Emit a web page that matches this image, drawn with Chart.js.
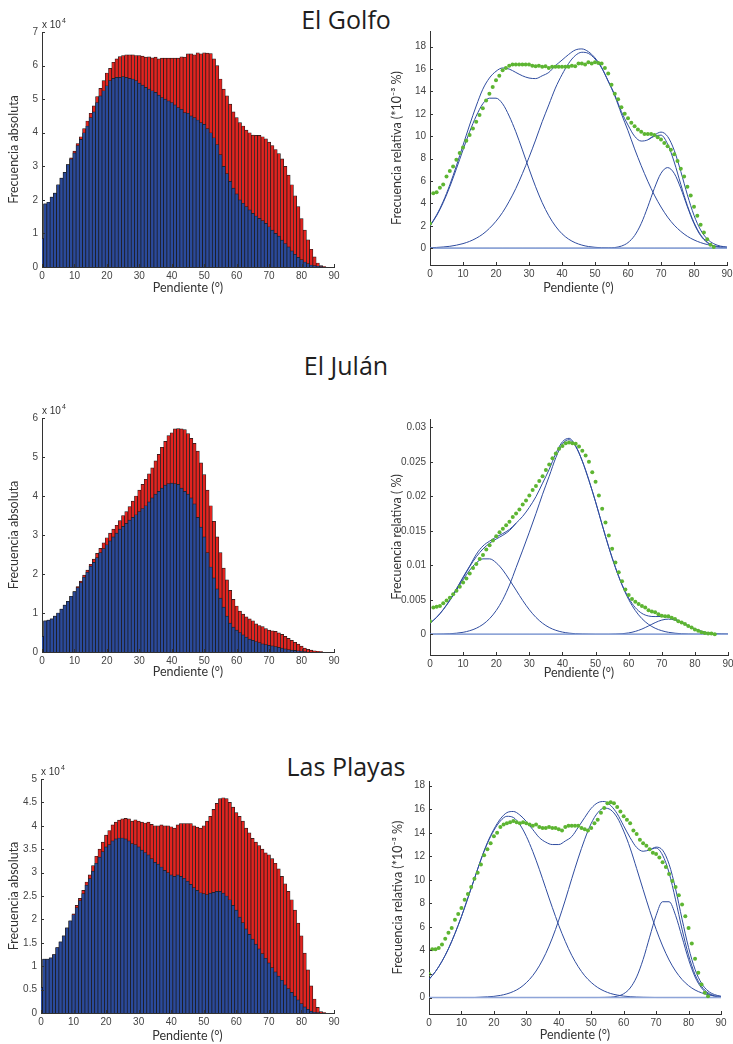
<!DOCTYPE html>
<html lang="es">
<head>
<meta charset="utf-8">
<title>Pendientes</title>
<script src="https://cdn.jsdelivr.net/npm/chart.js@4.4.1/dist/chart.umd.min.js"></script>
<style>
  html, body { margin: 0; padding: 0; background: #fff; }
  body { width: 733px; height: 1044px; position: relative; overflow: hidden; }
  canvas { position: absolute; }
  .titulo { position: absolute; left: 0; width: 692px; text-align: center;
            font-family: 'Open Sans', sans-serif; font-size: 25px; line-height: 25px; color: #1e1e1e; }
</style>
</head>
<body>
<div class="titulo" style="top:7px">El Golfo</div>
<div class="titulo" style="top:353px">El Julán</div>
<div class="titulo" style="top:754px">Las Playas</div>
<script>
// pendiente (grados) de cada barra / punto
const grados = [0,1,2,3,4,5,6,7,8,9,10,11,12,13,14,15,16,17,18,19,20,21,22,23,24,25,26,27,28,29,
  30,31,32,33,34,35,36,37,38,39,40,41,42,43,44,45,46,47,48,49,50,51,52,53,54,55,56,57,58,59,
  60,61,62,63,64,65,66,67,68,69,70,71,72,73,74,75,76,77,78,79,80,81,82,83,84,85,86,87,88,89];
const xAjuste = [0,2,4,6,8,10,12,14,16,18,20,22,24,26,28,30,32,34,36,38,40,42,44,
  46,48,50,52,54,56,58,60,62,64,66,68,70,72,74,76,78,80,82,84,86,88,90];
const ticksX = [0,10,20,30,40,50,60,70,80,90];

// ---- El Golfo ----
const golfoTotal = [0.85,1.88,1.93,2.08,2.2,2.45,2.65,2.82,3.05,3.25,
  3.45,3.68,3.88,4.12,4.35,4.58,4.8,5.08,5.32,5.55,
  5.78,5.92,6.1,6.2,6.27,6.3,6.32,6.32,6.32,6.3,
  6.3,6.28,6.25,6.26,6.23,6.25,6.2,6.22,6.22,6.22,
  6.22,6.22,6.22,6.26,6.25,6.35,6.35,6.32,6.38,6.35,
  6.38,6.37,6.36,6.2,6.0,5.6,5.3,5.1,4.85,4.62,
  4.45,4.3,4.2,4.08,4.0,3.93,3.92,3.92,3.88,3.82,
  3.72,3.62,3.5,3.38,3.22,3.0,2.74,2.45,2.12,1.8,
  1.44,1.1,0.81,0.53,0.3,0.12,0.04,0.01,0,0];
const golfoAzul = [0.85,1.88,1.93,2.08,2.2,2.45,2.65,2.82,3.05,3.22,
  3.4,3.62,3.8,4.0,4.2,4.45,4.62,4.9,5.1,5.25,
  5.4,5.55,5.62,5.65,5.65,5.67,5.65,5.62,5.6,5.55,
  5.48,5.42,5.35,5.3,5.25,5.2,5.12,5.05,5.0,4.95,
  4.9,4.83,4.75,4.7,4.6,4.58,4.5,4.45,4.38,4.3,
  4.25,4.12,4.0,3.85,3.65,3.35,3.0,2.78,2.55,2.35,
  2.18,2.0,1.9,1.8,1.7,1.6,1.52,1.45,1.38,1.3,
  1.2,1.1,1.0,0.92,0.8,0.7,0.6,0.48,0.38,0.29,
  0.22,0.15,0.1,0.06,0.04,0.02,0.01,0,0,0];
const golfoVerde = [2.2,4.9,5.0,5.4,5.7,6.4,6.9,7.3,7.9,8.5,
  9.0,9.6,10.1,10.7,11.3,11.9,12.5,13.2,13.8,14.4,
  15.0,15.4,15.9,16.1,16.3,16.4,16.4,16.4,16.4,16.4,
  16.4,16.3,16.25,16.3,16.2,16.25,16.1,16.2,16.2,16.2,
  16.2,16.2,16.2,16.3,16.25,16.5,16.5,16.4,16.6,16.5,
  16.6,16.55,16.5,16.1,15.6,14.6,13.8,13.3,12.6,12.0,
  11.6,11.2,10.9,10.6,10.4,10.2,10.2,10.2,10.1,9.9,
  9.7,9.4,9.1,8.8,8.4,7.8,7.1,6.4,5.5,4.7,
  3.7,2.9,2.1,1.4,0.8,0.3,0.1];
const golfoC1 = [1.98,2.9,4.07,5.49,7.09,8.78,10.4,11.8,12.9,13.4,
  13.4,12.9,11.8,10.4,8.78,7.09,5.49,4.07,2.9,1.98,
  1.29,0.81,0.49,0.28,0.15,0.08,0.04,0.02,0.01,0,
  0,0,0,0,0,0,0,0,0,0,
  0,0,0,0,0,0];
const golfoC2 = [0.04,0.07,0.11,0.17,0.27,0.41,0.61,0.89,1.26,1.77,
  2.41,3.2,4.19,5.33,6.66,8.11,9.66,11.3,12.8,14.3,
  15.5,16.5,17.2,17.5,17.4,16.9,16.1,14.9,13.6,12.0,
  10.5,8.87,7.37,5.98,4.74,3.68,2.78,2.06,1.5,1.06,
  0.74,0.5,0.33,0.21,0.13,0.08];
const golfoC3 = [0,0,0,0,0,0,0,0,0,0,
  0,0,0,0,0,0,0,0,0,0,
  0,0,0,0,0,0,0.01,0.02,0.06,0.19,
  0.5,1.13,2.2,3.7,5.35,6.69,7.2,6.69,5.35,3.7,
  2.2,1.13,0.5,0.19,0.06,0.02];
const golfoSuma = [2.02,2.97,4.18,5.66,7.36,9.19,11.0,12.7,14.2,15.2,
  15.8,16.1,16.0,15.7,15.4,15.2,15.15,15.4,15.7,16.3,
  16.8,17.3,17.7,17.8,17.55,17.0,16.15,14.94,13.7,12.2,
  11.0,10.0,9.57,9.68,10.1,10.37,9.98,8.75,6.85,4.76,
  2.94,1.63,0.83,0.4,0.19,0.1];
const golfoSuma2 = [null,null,null,null,null,null,null,null,null,null,
  null,null,null,null,null,null,null,null,null,null,
  null,null,null,null,null,null,null,null,null,null,
  null,null,null,9.68,10.0,10.1,9.3,7.7,5.7,3.8,
  2.3,1.2,0.55,0.15,null,null];
const golfoTicksY = [0,1,2,3,4,5,6,7];
const golfoTicksRel = [0,2,4,6,8,10,12,14,16,18];

// ---- El Julán ----
const julanTotal = [0.4,0.8,0.82,0.85,0.92,1.0,1.1,1.2,1.3,1.43,
  1.55,1.68,1.82,1.97,2.1,2.25,2.38,2.53,2.66,2.8,
  2.93,3.05,3.15,3.25,3.37,3.5,3.6,3.73,3.87,4.0,
  4.15,4.3,4.43,4.57,4.72,4.9,5.07,5.25,5.4,5.55,
  5.62,5.72,5.73,5.72,5.7,5.6,5.48,5.35,5.15,4.85,
  4.55,4.15,3.75,3.35,2.95,2.55,2.15,1.85,1.58,1.35,
  1.18,1.05,0.97,0.9,0.85,0.8,0.72,0.68,0.65,0.6,
  0.56,0.54,0.53,0.49,0.45,0.4,0.35,0.3,0.25,0.2,
  0.15,0.1,0.07,0.05,0.03,0.02,0.01,0,0,0];
const julanAzul = [0.4,0.8,0.82,0.85,0.92,1.0,1.1,1.2,1.3,1.43,
  1.55,1.65,1.78,1.92,2.05,2.2,2.3,2.42,2.55,2.65,
  2.75,2.85,2.95,3.05,3.15,3.22,3.3,3.38,3.45,3.52,
  3.6,3.68,3.75,3.85,3.95,4.05,4.12,4.2,4.28,4.32,
  4.33,4.32,4.3,4.2,4.12,4.05,3.95,3.8,3.45,3.2,
  2.95,2.55,2.18,1.9,1.62,1.38,1.15,0.92,0.74,0.64,
  0.56,0.5,0.44,0.38,0.33,0.3,0.27,0.24,0.21,0.19,
  0.17,0.16,0.14,0.12,0.1,0.08,0.06,0.05,0.04,0.03,
  0.02,0.01,0,0,0,0,0,0,0,0];
const julanVerde = [0.0019,0.0039,0.0040,0.0041,0.0045,0.0049,0.0053,0.0058,0.0063,0.0069,
  0.0075,0.0081,0.0088,0.0096,0.0102,0.0109,0.0115,0.0123,0.0129,0.0136,
  0.0142,0.0148,0.0153,0.0158,0.0163,0.0170,0.0175,0.0181,0.0188,0.0194,
  0.0201,0.0209,0.0215,0.0222,0.0229,0.0238,0.0246,0.0255,0.0262,0.0269,
  0.0273,0.0277,0.0278,0.0277,0.0276,0.0272,0.0266,0.0259,0.0250,0.0235,
  0.0221,0.0201,0.0182,0.0162,0.0143,0.0124,0.0104,0.0090,0.0077,0.0065,
  0.0057,0.0051,0.0047,0.0044,0.0041,0.0039,0.0035,0.0033,0.0032,0.0029,
  0.0027,0.0026,0.0026,0.0024,0.0022,0.0019,0.0017,0.0015,0.0012,0.0010,
  0.0007,0.0005,0.0003,0.0002,0.0001,0.0001,0];
const julanC1 = [0.0016,0.00245,0.00356,0.0049,0.0064,0.0079,0.0093,0.01036,0.01093,0.01093,
  0.01036,0.0093,0.0079,0.0064,0.0049,0.00356,0.00245,0.0016,0.00099,0.00058,
  0.00032,0.00017,0.00008,0.00004,0.00002,0,0,0,0,0,
  0,0,0,0,0,0,0,0,0,0,
  0,0,0,0,0,0];
const julanC2 = [0.00001,0.00002,0.00004,0.00008,0.00016,0.00029,0.00052,0.00088,0.00144,0.00227,
  0.00345,0.00505,0.00713,0.00966,0.0122,0.0148,0.0175,0.0203,0.0229,0.0256,
  0.0276,0.0282,0.0272,0.0251,0.0223,0.0192,0.01585,0.0126,0.00966,0.00713,
  0.00505,0.00345,0.00227,0.00144,0.00088,0.00052,0.00029,0.00016,0.00008,0.00004,
  0.00002,0.00001,0,0,0,0];
const julanC3 = [0,0,0,0,0,0,0,0,0,0,
  0,0,0,0,0,0,0,0,0,0,
  0,0,0,0,0,0,0,0,0.00003,0.00008,
  0.0002,0.00042,0.00076,0.00121,0.00169,0.00206,0.0022,0.00206,0.00169,0.00121,
  0.00076,0.00042,0.0002,0.00008,0.00003,0.00001];
const julanSuma = [0.00161,0.00247,0.0036,0.005,0.0066,0.0083,0.0099,0.0116,0.0128,0.0135,
  0.0141,0.0146,0.0152,0.0161,0.0171,0.0184,0.01995,0.0219,0.0239,0.0262,
  0.0279,0.0284,0.0273,0.0251,0.02232,0.0192,0.01585,0.0126,0.00969,0.00721,
  0.00525,0.00387,0.00303,0.00265,0.00257,0.00258,0.00249,0.00222,0.00177,0.00125,
  0.00078,0.00043,0.00021,0.00009,0.00004,0.00002];
const julanSuma2 = [null,null,null,0.00498,0.00656,0.00819,0.00982,0.01124,0.01237,0.0132,
  0.01381,0.01435,0.01503,0.0161,null,null,null,null,null,null,
  null,null,null,null,null,null,null,null,null,null,
  null,null,null,null,null,null,null,null,null,null,
  null,null,null,null,null,null];
const julanTicksY = [0,1,2,3,4,5,6];
const julanTicksRel = [0,0.005,0.01,0.015,0.02,0.025,0.03];

// ---- Las Playas ----
const playasTotal = [0.55,1.15,1.15,1.18,1.25,1.4,1.52,1.65,1.82,1.97,
  2.12,2.3,2.45,2.62,2.8,2.95,3.15,3.35,3.5,3.65,
  3.8,3.9,4.02,4.08,4.12,4.15,4.16,4.15,4.1,4.13,
  4.1,4.08,4.06,4.08,4.03,4.0,4.0,4.02,4.0,4.0,
  3.98,3.95,4.02,4.05,4.05,4.05,4.05,4.0,3.97,3.95,
  4.0,4.1,4.2,4.35,4.48,4.58,4.6,4.58,4.5,4.4,
  4.28,4.2,4.1,3.95,3.85,3.73,3.65,3.58,3.5,3.42,
  3.38,3.3,3.2,3.08,2.92,2.76,2.6,2.42,2.2,1.92,
  1.65,1.28,0.92,0.58,0.3,0.12,0.03,0.01,0,0];
const playasAzul = [0.55,1.15,1.15,1.18,1.25,1.4,1.52,1.65,1.82,1.97,
  2.1,2.25,2.4,2.55,2.73,2.87,3.03,3.2,3.33,3.45,
  3.55,3.6,3.68,3.72,3.74,3.74,3.72,3.68,3.62,3.6,
  3.55,3.48,3.43,3.38,3.3,3.22,3.18,3.12,3.05,3.0,
  2.95,2.92,2.95,2.92,2.88,2.82,2.75,2.68,2.62,2.57,
  2.55,2.53,2.56,2.58,2.6,2.6,2.56,2.5,2.42,2.3,
  2.2,2.05,1.93,1.8,1.68,1.58,1.47,1.37,1.27,1.17,
  1.07,0.97,0.88,0.79,0.7,0.6,0.52,0.44,0.36,0.28,
  0.2,0.13,0.08,0.04,0.02,0.01,0,0,0,0];
const playasVerde = [2.0,4.1,4.1,4.2,4.5,5.0,5.5,5.9,6.6,7.1,
  7.6,8.3,8.8,9.4,10.1,10.6,11.3,12.1,12.6,13.1,
  13.7,14.0,14.5,14.7,14.8,14.9,15.0,14.9,14.8,14.9,
  14.8,14.7,14.6,14.7,14.5,14.4,14.4,14.5,14.4,14.4,
  14.3,14.2,14.5,14.6,14.6,14.6,14.6,14.4,14.3,14.2,
  14.4,14.8,15.1,15.7,16.1,16.5,16.6,16.5,16.2,15.8,
  15.4,15.1,14.8,14.2,13.9,13.4,13.1,12.9,12.6,12.3,
  12.2,11.9,11.5,11.1,10.5,9.9,9.4,8.7,7.9,6.9,
  5.9,4.6,3.3,2.1,1.1,0.4,0.1];
const playasC1 = [1.54,2.21,3.08,4.15,5.44,6.88,8.47,10.1,11.7,13.1,
  14.2,15.0,15.4,15.3,14.7,13.7,12.4,10.9,9.27,7.66,
  6.13,4.77,3.58,2.62,1.85,1.28,0.85,0.55,0.34,0.21,
  0.12,0.07,0.04,0.02,0.01,0,0,0,0,0,
  0,0,0,0,0,0];
const playasC2 = [0,0,0,0,0,0,0,0,0.03,0.06,
  0.1,0.18,0.31,0.51,0.81,1.26,1.87,2.69,3.75,5.05,
  6.58,8.28,10.1,11.85,13.45,14.8,15.7,16.1,15.95,15.3,
  14.15,12.7,10.96,9.17,7.41,5.8,4.38,3.19,2.25,1.53,
  1.01,0.64,0.4,0.24,0.14,0.08];
const playasC3 = [0,0,0,0,0,0,0,0,0,0,
  0,0,0,0,0,0,0,0,0,0,
  0,0,0,0,0,0,0,0.01,0.03,0.11,
  0.32,0.81,1.75,3.24,5.13,6.98,8.14,8.14,6.98,5.13,
  3.24,1.75,0.81,0.32,0.11,0.03];
const playasSuma = [1.54,2.21,3.08,4.15,5.44,6.88,8.47,10.1,11.73,13.16,
  14.3,15.18,15.71,15.81,15.51,14.96,14.27,13.59,13.2,13.0,
  13.0,13.3,13.68,14.47,15.3,16.08,16.55,16.66,16.32,15.62,
  14.59,13.58,12.75,12.43,12.55,12.78,12.52,11.33,9.23,6.66,
  4.25,2.39,1.21,0.56,0.25,0.11];
const playasSuma2 = [null,null,null,null,null,null,null,null,null,null,
  null,null,null,null,null,null,null,null,null,null,
  null,null,null,null,null,null,null,null,null,null,
  null,null,null,null,12.55,12.7,12.1,10.6,8.3,5.8,
  3.6,1.95,0.95,0.4,0.15,null];
const playasTicksY = [0,0.5,1,1.5,2,2.5,3,3.5,4,4.5,5];
const playasTicksRel = [0,2,4,6,8,10,12,14,16,18];

const AZUL = '#2a4a9b', ROJO = '#e3231f', LINEA = '#2f4c9f', VERDE = '#5db532', BASE = '#8ea5d8';

// marcas hacia dentro y etiqueta "x 10^4"
const marcas = {
  id: 'marcas',
  afterDraw(chart, args, opts) {
    const { ctx, chartArea: a, scales: { x, y } } = chart;
    ctx.save();
    ctx.strokeStyle = '#333';
    ctx.lineWidth = 1;
    ctx.beginPath();
    x.ticks.forEach(t => {
      const px = Math.round(x.getPixelForValue(t.value)) + 0.5;
      ctx.moveTo(px, a.bottom); ctx.lineTo(px, a.bottom - 3);
    });
    y.ticks.forEach(t => {
      const py = Math.round(y.getPixelForValue(t.value)) + 0.5;
      ctx.moveTo(a.left, py); ctx.lineTo(a.left + 3, py);
    });
    ctx.stroke();
    if (opts.exp) {
      ctx.fillStyle = '#333';
      ctx.font = '10px "Liberation Sans", Arial, sans-serif';
      ctx.fillText('x 10', a.left, a.top - 4);
      const w = ctx.measureText('x 10').width;
      ctx.font = '7px "Liberation Sans", Arial, sans-serif';
      ctx.fillText('4', a.left + w + 1, a.top - 9);
    }
    ctx.restore();
  }
};
Chart.register(marcas);

function puntos(xs, ys) {
  return ys.map((y, i) => ({ x: xs[i], y: y }));
}

function dibujar(T, tipo, datasets, ticksY, yMin, yMax, tituloY, exp) {
  const left = Math.round(T.tx - 7.5);
  const top = Math.round(T.t) - 18;
  const r = Math.round(T.r);
  const pr = Math.min(10, 733 - r);
  const W = r + pr - left;
  const H = Math.round(T.ty + 7.5) - top;
  const yW = Math.round(T.l) - left;
  const xH = top + H - Math.round(T.b);

  const cv = document.createElement('canvas');
  cv.width = W; cv.height = H;
  cv.style.left = left + 'px'; cv.style.top = top + 'px';
  document.body.appendChild(cv);

  const fTick = { family: '"Liberation Sans", Arial, sans-serif', size: 10 };
  const fTit = { family: 'Lato, sans-serif', size: 12.5 };

  new Chart(cv, {
    type: tipo,
    data: { datasets: datasets },
    options: {
      responsive: false,
      animation: false,
      events: [],
      layout: { padding: { top: 18, right: pr, bottom: 0, left: 0 } },
      plugins: { legend: { display: false }, tooltip: { enabled: false }, marcas: { exp: exp } },
      scales: {
        x: {
          type: 'linear', min: 0, max: 90, offset: false,
          grid: { display: false, drawTicks: false },
          border: { display: true, color: '#333' },
          ticks: { font: fTick, color: '#444', padding: 3, maxRotation: 0, autoSkip: false },
          title: { display: true, text: 'Pendiente (°)', font: fTit, color: '#333', padding: 0 },
          afterBuildTicks: s => { s.ticks = ticksX.map(v => ({ value: v })); },
          afterFit: s => { s.height = xH; s.paddingLeft = 0; s.paddingRight = 0; }
        },
        y: {
          type: 'linear', min: yMin, max: yMax,
          grid: { display: false, drawTicks: false },
          border: { display: true, color: '#333' },
          ticks: { font: fTick, color: '#444', padding: 4, autoSkip: false, callback: v => String(v) },
          title: { display: true, text: tituloY, font: fTit, color: '#333', padding: 0 },
          afterBuildTicks: s => { s.ticks = ticksY.map(v => ({ value: v })); },
          afterFit: s => { s.width = yW; s.paddingTop = 0; s.paddingBottom = 0; }
        }
      }
    }
  });
}

function histo(total, azul) {
  const comun = { borderColor: '#1b1b1b', borderWidth: 0.7, barPercentage: 1, categoryPercentage: 1,
                  grouped: false, clip: 0 };
  return [
    Object.assign({ data: puntos(grados, azul), backgroundColor: AZUL, order: 0 }, comun),
    Object.assign({ data: puntos(grados, total), backgroundColor: ROJO, order: 1 }, comun)
  ];
}

function ajuste(verde, curvas) {
  const ds = [{ data: puntos(grados, verde), showLine: false, pointRadius: 2,
                pointBackgroundColor: VERDE, pointBorderWidth: 0, order: -2 }];
  curvas.forEach(c => ds.push({ data: puntos(xAjuste, c), showLine: true, pointRadius: 0,
    borderColor: LINEA, borderWidth: 1, tension: 0.4, cubicInterpolationMode: 'monotone', spanGaps: false, order: 0 }));
  ds.push({ data: [{ x: xAjuste[0], y: 0 }, { x: xAjuste[xAjuste.length - 1], y: 0 }], showLine: true,
            pointRadius: 0, borderColor: BASE, borderWidth: 1.5, order: -1 });
  return ds;
}

// fila 1
dibujar({ l: 41.7, t: 32.3, r: 334.3, b: 266.7, tx: 13.5, ty: 287 }, 'bar',
  histo(golfoTotal, golfoAzul), golfoTicksY, 0, 7, 'Frecuencia absoluta', true);
dibujar({ l: 429.7, t: 30.7, r: 726.7, b: 265, tx: 396, ty: 287 }, 'scatter',
  ajuste(golfoVerde, [golfoC1, golfoC2, golfoC3, golfoSuma, golfoSuma2]),
  golfoTicksRel, -1.5, 19.4, 'Frecuencia relativa (*10⁻³ %)', false);
// fila 2
dibujar({ l: 41.7, t: 417.7, r: 334.3, b: 651.7, tx: 13.5, ty: 671.7 }, 'bar',
  histo(julanTotal, julanAzul), julanTicksY, 0, 6, 'Frecuencia absoluta', true);
dibujar({ l: 429.7, t: 419, r: 727.7, b: 655, tx: 396, ty: 672 }, 'scatter',
  ajuste(julanVerde, [julanC1, julanC2, julanC3, julanSuma, julanSuma2]),
  julanTicksRel, -0.003, 0.0312, 'Frecuencia relativa ( %)', false);
// fila 3
dibujar({ l: 40.7, t: 779.3, r: 334.3, b: 1013.3, tx: 13.5, ty: 1035 }, 'bar',
  histo(playasTotal, playasAzul), playasTicksY, 0, 5, 'Frecuencia absoluta', true);
dibujar({ l: 429, t: 780.7, r: 720.7, b: 1013.8, tx: 397, ty: 1034.5 }, 'scatter',
  ajuste(playasVerde, [playasC1, playasC2, playasC3, playasSuma, playasSuma2]),
  playasTicksRel, -1.4, 18.4, 'Frecuencia relativa (*10⁻³ %)', false);
</script>
</body>
</html>
